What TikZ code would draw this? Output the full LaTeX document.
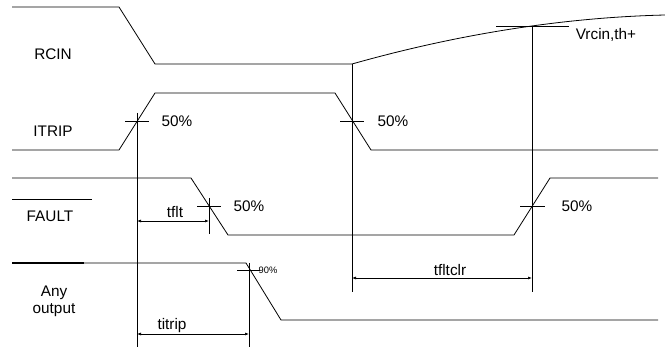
\documentclass[tikz,border=0pt]{standalone}
\usepackage{fontspec}
\setmainfont{Liberation Sans}
\usetikzlibrary{arrows.meta}

\tikzset{
    wave/.style={line width=0.6pt},
    mark line/.style={line width=0.5pt},
    dim/.style={line width=0.5pt, {Latex[length=3pt,width=2.2pt]}-{Latex[length=3pt,width=2.2pt]}},
    sig/.style={font=\fontsize{11.5}{12.5}\selectfont, inner sep=0pt},
    small/.style={font=\fontsize{7}{8}\selectfont, inner sep=0pt}
}

\begin{document}
\begin{tikzpicture}[x=0.75pt,y=-0.75pt]
        \useasboundingbox (0,0) rectangle (665,349);

        % Crossing points
        \coordinate (trip) at (137,121);
        \coordinate (rst) at (352,121);
        \coordinate (flt) at (209,206);
        \coordinate (clr) at (532,206);
        \coordinate (out) at (249,270);
        \coordinate (th) at (532,26);

        % RCIN
        \draw[wave] (12,7) -- (119,7) -- (155,64) -- (352,64);
        \draw[wave] (352,64) .. controls (430,42) and (540,18) .. (665,15);
        \node[sig] (rcin) at (53,54) {RCIN};

        % ITRIP
        \draw[wave] (12,150) -- (119,150) -- (155,93) -- (335,93) -- (371,150) -- (658,150);
        \node[sig] (itrip) at (53,131) {ITRIP};

        % FAULT (active low)
        \draw[wave] (12,178) -- (191,178) -- (228,235) -- (514,235) -- (550,178) -- (658,178);
        \node[sig] (fault) at (50,216) {FAULT};
        \draw[wave] (12,199) -- (92,199);

        % Any output
        \draw[line width=1.6pt] (12,263) -- (84,263);
        \draw[wave] (84,263) -- (246,263) -- (281,320) -- (658,320);
        \node[sig, align=center] (anyout) at (54,301) {Any\\output};

        % Time markers
        \draw[mark line] (137,113) -- (137,347);
        \draw[mark line] (352,64) -- (352,292);
        \draw[mark line] (th) -- (532,292);
        \draw[mark line] (209,198) -- (209,234);
        \draw[mark line] (249,263) -- (249,347);

        % Level ticks
        \draw[mark line] ([xshift=-9]trip) -- ([xshift=9]trip);
        \draw[mark line] ([xshift=-9]rst) -- ([xshift=9]rst);
        \draw[mark line] ([xshift=-9]flt) -- ([xshift=9]flt);
        \draw[mark line] ([xshift=-9]clr) -- ([xshift=10]clr);
        \draw[mark line] ([xshift=-27]th) -- ([xshift=28]th);
        \draw[mark line] ([xshift=-9]out) -- ([xshift=8]out);

        % Levels
        \node[sig] (p1) at (177,121) {50\%};
        \node[sig] (p2) at (393,121) {50\%};
        \node[sig] (p3) at (249,206) {50\%};
        \node[sig] (p4) at (577,206) {50\%};
        \node[small] (p5) at (268,270) {90\%};
        \node[sig] (vth) at (606,35) {Vrcin,th+};

        % Delays
        \coordinate (a1) at (137,221);
        \coordinate (b1) at (209,221);
        \coordinate (a2) at (352,278);
        \coordinate (b2) at (532,278);
        \coordinate (a3) at (137,334);
        \coordinate (b3) at (249,334);
        \draw[dim] (a1) -- (b1);
        \draw[dim] (a2) -- (b2);
        \draw[dim] (a3) -- (b3);
        \node[sig] (tflt) at (175,212) {tflt};
        \node[sig] (tfltclr) at (450,270) {tfltclr};
        \node[sig] (titrip) at (172,326) {titrip};
    \end{tikzpicture}
\end{document}
